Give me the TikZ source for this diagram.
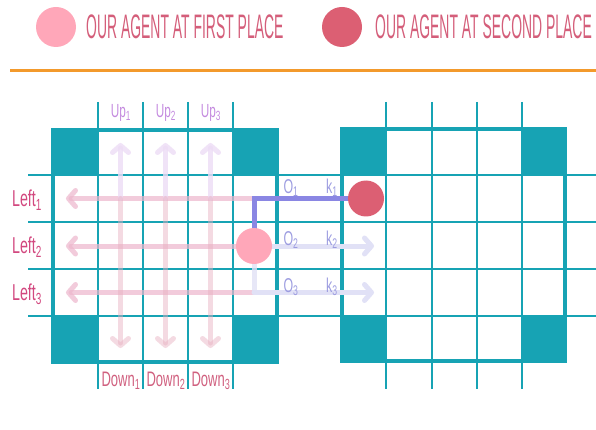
\documentclass[tikz,border=0pt]{standalone}
\usepackage{fontspec}
\newfontfamily\headfont[FakeStretch=0.41]{Liberation Sans}
\newfontfamily\lblfont[FakeStretch=0.62]{Liberation Sans}
\usetikzlibrary{positioning, arrows.meta}

\definecolor{gridteal}{HTML}{17A3B4}
\definecolor{agentone}{HTML}{FFA7B9}
\definecolor{agenttwo}{HTML}{DC5F73}
\definecolor{headred}{HTML}{D45E7A}
\definecolor{leftpink}{HTML}{D2487F}
\definecolor{uppurple}{HTML}{C48BDF}
\definecolor{downpink}{HTML}{D0607F}
\definecolor{obslav}{HTML}{9C9CE0}
\definecolor{pathblue}{HTML}{8A86E3}
\definecolor{rulebar}{HTML}{F39A2C}

\begin{document}
\begin{tikzpicture}[x=1pt, y=-1pt]
	\tikzset{
		gridline/.style={gridteal, line width=2pt},
		blockedge/.style={gridteal, line width=4pt},
		corner/.style={fill=gridteal},
		agent/.style={circle, minimum size=36pt, inner sep=0pt},
		movearrow/.style={line width=5pt, line cap=round, -{Straight Barb[length=7pt,width=16pt,round]}},
		lbl/.style={inner sep=0pt, font=\lblfont}
	}
	\useasboundingbox (0,0) rectangle (596,430);

	% legend
	\node[agent, fill=agentone, minimum size=40pt] (legA) at (56,27) {};
	\node[anchor=west, inner sep=0pt, text=headred, font=\headfont\fontsize{34}{38}\selectfont] (legAtext) at (86,27) {OUR AGENT AT FIRST PLACE};
	\node[agent, fill=agenttwo, minimum size=40pt] (legB) at (342,27) {};
	\node[anchor=west, inner sep=0pt, text=headred, font=\headfont\fontsize{34}{38}\selectfont] (legBtext) at (375,27) {OUR AGENT AT SECOND PLACE};
	\draw[rulebar, line width=3pt] (10,71) -- (596,71);

	% grid
	\foreach \y in {175,222,269,316} {
		\draw[gridline] (28,\y) -- (596,\y);
	}
	\foreach \x in {98,143,188,233,386,432,477,522} {
		\draw[gridline] (\x,102) -- (\x,389);
	}
	\fill[white] (55,132) rectangle (275,360);
	\fill[white] (344,131) rectangle (563,359);
	\foreach \y in {175,222,269,316} {
		\draw[gridline] (53,\y) -- (277,\y);
		\draw[gridline] (342,\y) -- (565,\y);
	}
	\foreach \x in {98,143,188,233} {
		\draw[gridline] (\x,130) -- (\x,362);
	}
	\foreach \x in {386,432,477,522} {
		\draw[gridline] (\x,129) -- (\x,361);
	}
	\draw[blockedge] (53,130) rectangle (277,362);
	\draw[blockedge] (342,129) rectangle (565,361);
	\fill[corner] (51,128) rectangle (98,175);
	\fill[corner] (233,128) rectangle (279,175);
	\fill[corner] (51,316) rectangle (98,364);
	\fill[corner] (233,316) rectangle (279,364);
	\fill[corner] (340,127) rectangle (386,175);
	\fill[corner] (522,127) rectangle (567,175);
	\fill[corner] (340,317) rectangle (386,363);
	\fill[corner] (522,317) rectangle (567,363);

	% moves
	\coordinate (agentpos) at (254,246);
	\foreach \i/\y in {1/198.5,2/246,3/292.5} {
		\coordinate (lS\i) at (254,\y);
		\coordinate (lE\i) at (66,\y);
		\draw[movearrow, leftpink!40, opacity=0.7] (lS\i) -- (lE\i);
	}
	\foreach \i/\x in {1/120.5,2/165.5,3/210.5} {
		\coordinate (uS\i) at (\x,198.5);
		\coordinate (uE\i) at (\x,143);
		\coordinate (dE\i) at (\x,348);
		\draw[movearrow, uppurple!30, opacity=0.8] (uS\i) -- (uE\i);
		\draw[movearrow, downpink!50, opacity=0.45] (uS\i) -- (dE\i);
	}
	\coordinate (rS2) at (254,246);
	\coordinate (rE2) at (374,246);
	\coordinate (rE3) at (374,292.5);
	\draw[movearrow, obslav!30] (rS2) -- (rE2);
	\draw[movearrow, obslav!30] (lS3) -- (rE3);
	\draw[line width=5pt, obslav!30, opacity=0.8] (agentpos) -- (lS3);

	% agents
	\node[agent, fill=agenttwo] (agentB) at (366,198.5) {};
	\draw[pathblue, line width=5pt] (agentpos) |- (agentB.west);
	\node[agent, fill=agentone] (agentA) at (agentpos) {};

	% labels
	\foreach \i/\x in {1/121,2/166,3/211} {
		\node[lbl, text=uppurple, font=\lblfont\fontsize{19}{21}\selectfont] (up\i) at (\x,113) {Up\textsubscript{\i}};
		\node[lbl, text=downpink, font=\lblfont\fontsize{21}{23}\selectfont] (down\i) at (\x,381) {Down\textsubscript{\i}};
	}
	\foreach \i/\y in {1/200,2/247,3/294} {
		\node[lbl, text=leftpink, font=\lblfont\fontsize{23}{25}\selectfont] (left\i) at (27,\y) {Left\textsubscript{\i}};
	}
	\foreach \i/\y in {1/188,2/240,3/287} {
		\node[lbl, text=obslav, font=\lblfont\fontsize{20}{22}\selectfont] (obs\i) at (291,\y) {O\textsubscript{\i}};
		\node[lbl, text=obslav, font=\lblfont\fontsize{20}{22}\selectfont] (key\i) at (332,\y) {k\textsubscript{\i}};
	}
\end{tikzpicture}
\end{document}
